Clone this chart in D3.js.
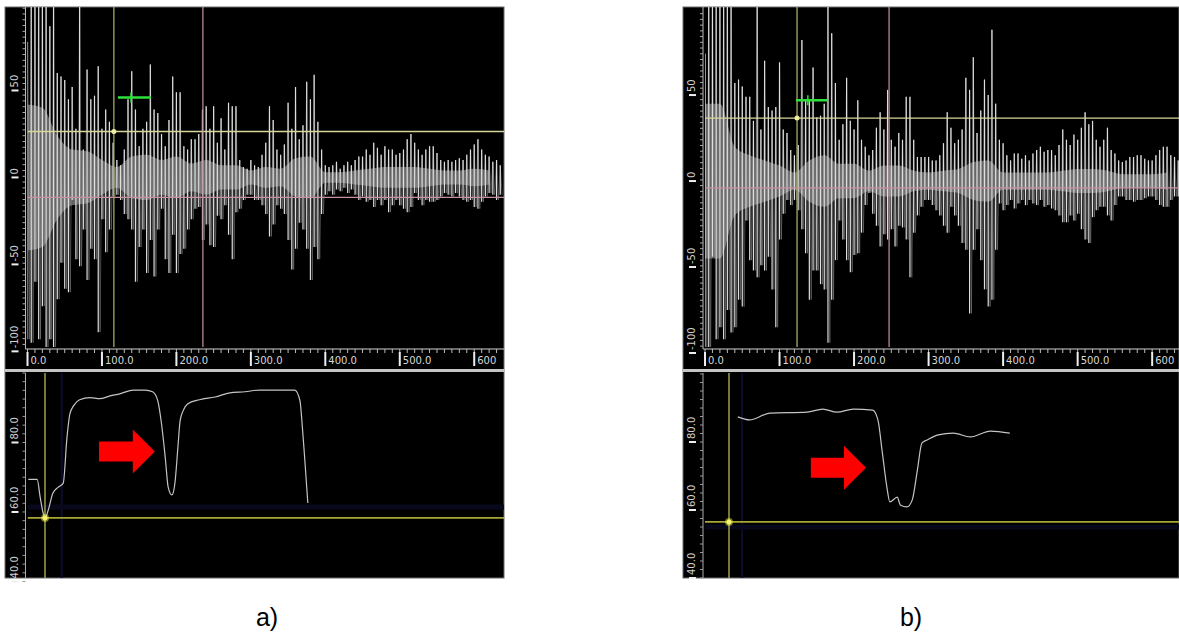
<!DOCTYPE html>
<html>
<head>
<meta charset="utf-8">
<script src="https://cdn.jsdelivr.net/npm/d3@7"></script>
<style>
  body { margin: 0; background: #fff; }
  svg { display: block; }
</style>
</head>
<body>
<script>
// ---- data ----
const timeTicks = [0, 100, 200, 300, 400, 500, 600];
const timeLabels = ["0.0", "100.0", "200.0", "300.0", "400.0", "500.0", "600"];
const ampTicks = [50, 0, -50, -100];
const ampLabels = ["50", "0", "-50", "-100"];
const hzTicks = [80, 60, 40];
const hzLabels = ["80.0", "60.0", "40.0"];

const waveStep = 5;   // ms between waveform columns
const coreStep = 20;  // ms between core (dense gray) samples

// panel a) waveform: positive / negative peak per 5 ms column (110 = clipped)
const waveTopA = [
  78,110,110,110,110,110,87,110,60,58,
  56,45,52,28,110,16,62,45,47,64,
  28,39,32,20,10,7,16,45,61,39,
  18,28,32,65,39,37,25,18,33,58,
  49,49,18,16,22,22,25,39,41,28,
  41,20,34,16,43,41,41,10,6,5,
  10,7,6,13,20,41,33,16,13,19,
  43,28,52,22,30,55,45,59,32,16,
  7,6,7,9,5,7,9,7,10,12,
  12,16,13,20,17,13,18,16,16,13,
  14,16,22,25,20,16,13,16,18,18,
  14,10,9,10,9,10,11,10,13,16,
  19,22,16,13,12,9,10,7];
const waveBotA = [
  -93,-95,-60,-93,-74,-110,-93,-110,-70,-49,
  -64,-66,-13,-47,-51,-30,-59,-41,-47,-89,
  -24,-43,-30,-11,-10,-13,-21,-24,-30,-60,
  -40,-30,-55,-36,-57,-30,-18,-47,-55,-33,
  -55,-44,-41,-30,-24,-18,-17,-36,-27,-39,
  -40,-22,-24,-16,-33,-47,-20,-18,-13,-10,
  -10,-13,-13,-16,-21,-34,-27,-16,-18,-21,
  -36,-53,-41,-26,-30,-41,-59,-40,-47,-21,
  -10,-8,-10,-7,-8,-6,-9,-7,-10,-13,
  -11,-14,-13,-17,-13,-16,-13,-20,-16,-13,
  -16,-18,-20,-17,-9,-13,-16,-13,-14,-14,
  -13,-11,-9,-10,-11,-9,-11,-13,-14,-13,
  -17,-18,-14,-11,-9,-10,-13,-10];
const waveCoreA = [42,40,24,16,15,10,6,12,13,10,12,8,10,7,7,4,
                   6,5,11,12,3,3,4,5,6,6,6,5,4,4,5,4];

// panel b) waveform
const waveTopB = [
  74,110,110,110,110,110,110,110,57,59,
  55,49,49,35,110,30,70,43,41,43,
  69,30,28,18,15,21,82,47,47,66,
  37,38,45,110,86,57,24,33,60,35,
  30,47,24,20,15,18,31,40,30,53,
  24,20,28,24,49,49,24,14,14,14,
  14,12,12,15,22,40,31,22,24,30,
  60,53,72,28,41,59,50,88,45,24,
  22,15,12,16,16,13,15,12,16,18,
  20,17,18,18,15,21,30,24,21,27,
  24,31,40,33,35,24,20,24,31,18,
  16,12,11,12,14,14,15,15,13,12,
  12,15,18,20,20,15,14,12];
const waveBotB = [
  -97,-110,-44,-92,-85,-92,-75,-88,-85,-69,
  -73,-23,-46,-52,-56,-49,-52,-44,-63,-85,
  -34,-19,-11,-14,-11,-17,-28,-42,-69,-52,
  -52,-60,-63,-94,-69,-46,-23,-34,-46,-53,
  -43,-42,-30,-14,-7,-19,-26,-38,-31,-34,
  -28,-38,-26,-27,-34,-56,-30,-20,-15,-11,
  -11,-14,-17,-20,-26,-30,-15,-20,-26,-36,
  -40,-77,-40,-28,-46,-63,-73,-69,-40,-13,
  -17,-14,-11,-16,-13,-11,-14,-11,-13,-14,
  -11,-15,-14,-16,-17,-20,-24,-24,-20,-23,
  -19,-28,-34,-36,-21,-17,-15,-15,-20,-23,
  -14,-9,-9,-11,-11,-12,-11,-11,-10,-9,
  -9,-11,-14,-15,-15,-11,-9,-9];
const waveCoreB = [45,45,20,15,12,9,5,12,15,10,10,6,9,9,6,5,
                   6,7,11,12,5,5,5,5,6,7,7,6,4,4,4,5];

// pitch contours (time ms, Hz)
const pitchTimeA = [1,13,17,21,23.5,29,34,41,48,53,57,62,70,84,97,111,124,142,158,168,
                    175,180,185,189,194,198,202,205,209,215,231,252,272,292,312,332,359,366,368.5,372.5,376.5];
const pitchHzA = [69.4,69.4,64.3,59.7,58.3,61.4,65.4,67.1,68.3,81.4,88.3,90.6,92.3,92.9,92.6,93.4,94.0,95.1,95.1,94.6,
                  92.0,85.4,75.7,67.1,64.9,68.3,78.6,86.3,89.1,91.1,92.3,93.1,94.3,94.6,95.1,95.1,95.1,92.0,86.3,74.9,62.6];
const pitchTimeB = [44,60,87,137,158,177,199,225,232,238,244,248,258,262,271,278,285,291,298,313,333,356,383,409];
const pitchHzB = [87.4,86.5,88.5,88.8,89.7,88.8,89.7,89.4,86.5,76.8,66.8,62.4,63.8,61.5,60.9,62.9,71.8,79.7,80.6,82.1,82.6,81.5,83.2,82.6];

// cursors / markers (data units)
const cursorsA = { t: 116, tEnd: 235.6, amp: 26.4, ampPink: -11.5, green: [121.5, 165.8, 46, 139],
                   pitchT: 23.5, pitchHz: 58.3, navyT: 46, navyHz: 61.4, arrow: [96, 171, 77.4] };
const cursorsB = { t: 123.5, tEnd: 247, amp: 36.6, ampPink: -4, green: [122, 164, 47, 138],
                   pitchT: 32.2, pitchHz: 56.5, navyT: 49.7, navyHz: 55, arrow: [142, 216, 72.4] };

// ---- drawing ----
const W = 1179, H = 634;
const svg = d3.select("body").append("svg").attr("width", W).attr("height", H);
const font = "DejaVu Sans, sans-serif";

function drawPanel(id, box, tops, bots, core, pTime, pHz, c, caption) {
  const g = svg.append("g");
  const x = d3.scaleLinear().domain(box.tDomain).range([box.plotLeft, box.right]);
  const y = d3.scaleLinear().domain(box.ampDomain).range([box.waveBottom, box.top]);
  const yp = d3.scaleLinear().domain(box.hzDomain).range([box.bottom, box.pitchTop]);

  g.append("rect").attr("x", box.left).attr("y", box.top)
    .attr("width", box.right - box.left).attr("height", box.bottom - box.top)
    .attr("fill", "#000").attr("stroke", "#6a6a6a");

  const defs = svg.append("defs");
  defs.append("clipPath").attr("id", "wave" + id).append("rect")
    .attr("x", box.plotLeft).attr("y", box.top)
    .attr("width", box.right - box.plotLeft).attr("height", box.waveBottom - box.top);
  defs.append("clipPath").attr("id", "pitch" + id).append("rect")
    .attr("x", box.plotLeft).attr("y", box.pitchTop)
    .attr("width", box.right - box.plotLeft).attr("height", box.bottom - box.pitchTop);

  const wave = g.append("g").attr("clip-path", `url(#wave${id})`);

  // dense gray core
  wave.append("path").datum(core)
    .attr("fill", "#7c7c7c").attr("opacity", 0.8)
    .attr("d", d3.area().curve(d3.curveMonotoneX)
      .x((d, i) => x(i * coreStep))
      .y0(d => y(-d)).y1(d => y(d)));

  // faint zigzag between peaks (gray texture)
  const pts = [];
  tops.forEach((v, i) => {
    pts.push([i * waveStep, v]);
    pts.push([i * waveStep + waveStep / 2, bots[i]]);
  });
  wave.append("path").datum(pts)
    .attr("fill", "none").attr("stroke", "#9a9a9a").attr("stroke-width", 0.8).attr("opacity", 0.55)
    .attr("d", d3.line().x(d => x(d[0])).y(d => y(d[1])));

  // spikes
  wave.selectAll(".spike").data(tops).join("line")
    .attr("x1", (d, i) => x(i * waveStep)).attr("x2", (d, i) => x(i * waveStep))
    .attr("y1", d => y(d)).attr("y2", (d, i) => y(bots[i]))
    .attr("stroke", "#dedede").attr("stroke-width", 1.2);

  // cursors
  wave.append("line").attr("x1", box.plotLeft).attr("x2", box.right)
    .attr("y1", y(c.amp)).attr("y2", y(c.amp)).attr("stroke", "#d6d69a").attr("stroke-width", 1.3);
  wave.append("line").attr("x1", box.plotLeft).attr("x2", box.right)
    .attr("y1", y(c.ampPink)).attr("y2", y(c.ampPink)).attr("stroke", "#c890a0").attr("stroke-width", 1.3);
  wave.append("line").attr("x1", x(c.t)).attr("x2", x(c.t))
    .attr("y1", box.top).attr("y2", box.waveBottom).attr("stroke", "#a8a868").attr("stroke-width", 1.3);
  wave.append("line").attr("x1", x(c.tEnd)).attr("x2", x(c.tEnd))
    .attr("y1", box.top).attr("y2", box.waveBottom).attr("stroke", "#b88898").attr("stroke-width", 1.3);
  wave.append("circle").attr("cx", x(c.t)).attr("cy", y(c.amp)).attr("r", 2.5).attr("fill", "#eeeea0");

  // green marker
  const [g0, g1, ga, gt] = c.green;
  wave.append("line").attr("x1", x(g0)).attr("x2", x(g1)).attr("y1", y(ga)).attr("y2", y(ga))
    .attr("stroke", "#2ee03a").attr("stroke-width", 2.5);
  wave.append("line").attr("x1", x(gt)).attr("x2", x(gt)).attr("y1", y(ga) - 5).attr("y2", y(ga) + 5)
    .attr("stroke", "#2ee03a").attr("stroke-width", 1.5);

  // time axis strip
  const ax = g.append("g");
  ax.append("line").attr("x1", box.plotLeft - 2).attr("x2", box.right)
    .attr("y1", box.waveBottom + 2).attr("y2", box.waveBottom + 2).attr("stroke", "#d0d0d0");
  ax.selectAll(".minor").data(d3.range(box.tDomain[0], box.tDomain[1], 10)).join("line")
    .attr("x1", d => x(d)).attr("x2", d => x(d))
    .attr("y1", box.waveBottom + 2).attr("y2", box.waveBottom + 6)
    .attr("stroke", "#bbb").attr("stroke-width", 1);
  ax.selectAll(".major").data(timeTicks).join("line")
    .attr("x1", d => x(d)).attr("x2", d => x(d))
    .attr("y1", box.waveBottom + 5).attr("y2", box.waveBottom + 19)
    .attr("stroke", "#eee").attr("stroke-width", 2);
  ax.selectAll("text").data(timeTicks).join("text")
    .attr("x", d => x(d) + 3).attr("y", box.waveBottom + 17)
    .attr("fill", "#d8d8d8").attr("font-family", font).attr("font-size", 10)
    .text((d, i) => timeLabels[i]);

  // amplitude axis
  const ay = g.append("g");
  ay.append("line").attr("x1", box.plotLeft - 2).attr("x2", box.plotLeft - 2)
    .attr("y1", box.top).attr("y2", box.waveBottom + 2).attr("stroke", "#bbb");
  ay.selectAll(".minor").data(d3.range(-96, 98, 10 / 3)).join("line")
    .attr("x1", box.plotLeft - 5).attr("x2", box.plotLeft - 2)
    .attr("y1", d => y(d)).attr("y2", d => y(d)).attr("stroke", "#aaa");
  ay.selectAll(".major").data(ampTicks).join("line")
    .attr("x1", box.plotLeft - 16).attr("x2", box.plotLeft - 9)
    .attr("y1", d => y(d)).attr("y2", d => y(d)).attr("stroke", "#eee").attr("stroke-width", 2);
  ay.selectAll("text").data(ampTicks).join("text")
    .attr("transform", d => `translate(${box.plotLeft - 10},${y(d) - 3}) rotate(-90)`)
    .attr("fill", "#d0d0d0").attr("font-family", font).attr("font-size", 10)
    .text((d, i) => ampLabels[i]);

  // separator
  g.append("rect").attr("x", box.left).attr("y", box.pitchTop - 4)
    .attr("width", box.right - box.left).attr("height", 3).attr("fill", "#c4c4c4");

  // pitch panel
  const pitch = g.append("g").attr("clip-path", `url(#pitch${id})`);
  pitch.append("line").attr("x1", x(c.navyT)).attr("x2", x(c.navyT))
    .attr("y1", box.pitchTop).attr("y2", box.bottom).attr("stroke", "#0c0c2c").attr("stroke-width", 2);
  pitch.append("line").attr("x1", box.plotLeft).attr("x2", box.right)
    .attr("y1", yp(c.navyHz)).attr("y2", yp(c.navyHz)).attr("stroke", "#08081c").attr("stroke-width", 5);
  pitch.append("line").attr("x1", box.plotLeft).attr("x2", box.right)
    .attr("y1", yp(c.pitchHz)).attr("y2", yp(c.pitchHz)).attr("stroke", "#a8a832").attr("stroke-width", 1.6);
  pitch.append("line").attr("x1", x(c.pitchT)).attr("x2", x(c.pitchT))
    .attr("y1", box.pitchTop).attr("y2", box.bottom).attr("stroke", "#b8b858").attr("stroke-width", 1.3);
  pitch.append("path").datum(pTime.map((t, i) => [t, pHz[i]]))
    .attr("fill", "none").attr("stroke", "#c4c4c4").attr("stroke-width", 1.2)
    .attr("d", d3.line().curve(d3.curveMonotoneX).x(d => x(d[0])).y(d => yp(d[1])));
  pitch.append("circle").attr("cx", x(c.pitchT)).attr("cy", yp(c.pitchHz)).attr("r", 4)
    .attr("fill", "#e8e850").attr("opacity", 0.5);
  pitch.append("circle").attr("cx", x(c.pitchT)).attr("cy", yp(c.pitchHz)).attr("r", 2.5)
    .attr("fill", "#f4f470");

  // pitch axis
  const pa = g.append("g");
  pa.append("line").attr("x1", box.plotLeft - 2).attr("x2", box.plotLeft - 2)
    .attr("y1", box.pitchTop).attr("y2", box.bottom).attr("stroke", "#aaa");
  pa.selectAll(".minor").data(d3.range(40, 100.1, 2.5)).join("line")
    .attr("x1", box.plotLeft - 5).attr("x2", box.plotLeft - 2)
    .attr("y1", d => yp(d)).attr("y2", d => yp(d)).attr("stroke", "#999");
  pa.selectAll(".major").data(hzTicks).join("line")
    .attr("x1", box.plotLeft - 16).attr("x2", box.plotLeft - 9)
    .attr("y1", d => yp(d)).attr("y2", d => yp(d)).attr("stroke", "#eee").attr("stroke-width", 2);
  pa.selectAll("text").data(hzTicks).join("text")
    .attr("transform", d => `translate(${box.plotLeft - 10},${yp(d) - 3}) rotate(-90)`)
    .attr("fill", "#d0d0d0").attr("font-family", font).attr("font-size", 10)
    .text((d, i) => hzLabels[i]);

  // red arrow
  const [a0, a1, ah] = c.arrow;
  const ax0 = x(a0), ax1 = x(a1), ay0 = yp(ah), headLen = 22;
  g.append("path")
    .attr("d", `M${ax0},${ay0 - 10}H${ax1 - headLen}V${ay0 - 22}L${ax1},${ay0}L${ax1 - headLen},${ay0 + 22}V${ay0 + 10}H${ax0}Z`)
    .attr("fill", "#ff0000");

  svg.append("text").attr("x", box.captionX).attr("y", 626)
    .attr("text-anchor", "middle").attr("font-family", "Liberation Sans, Arial, sans-serif")
    .attr("font-size", 25).attr("fill", "#000").text(caption);
}

drawPanel("A",
  { left: 5, plotLeft: 27.5, right: 504, top: 7, waveBottom: 347, pitchTop: 373, bottom: 578,
    tDomain: [0, 640], ampDomain: [-97.5, 98], hzDomain: [41, 100], captionX: 267 },
  waveTopA, waveBotA, waveCoreA, pitchTimeA, pitchHzA, cursorsA, "a)");

drawPanel("B",
  { left: 683, plotLeft: 705, right: 1179, top: 7, waveBottom: 347, pitchTop: 373, bottom: 578,
    tDomain: [0, 636], ampDomain: [-96.5, 101.2], hzDomain: [40, 100.3], captionX: 911 },
  waveTopB, waveBotB, waveCoreB, pitchTimeB, pitchHzB, cursorsB, "b)");
</script>
</body>
</html>
